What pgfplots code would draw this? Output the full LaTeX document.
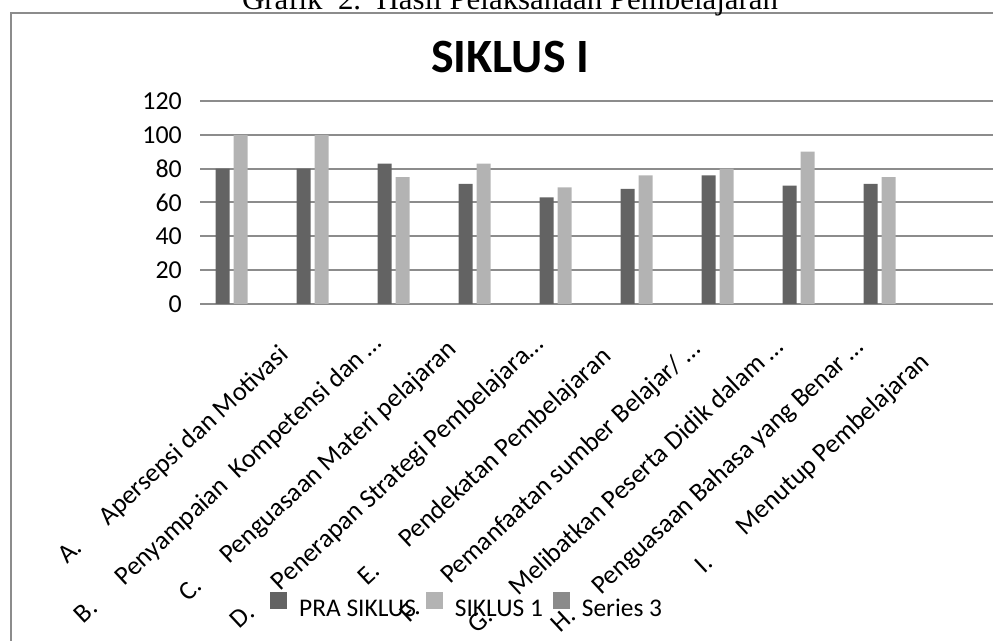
\documentclass[border=0pt]{standalone}
\usepackage{fontspec}
\setmainfont{Carlito}
\newfontfamily\timesfont{Liberation Serif}
\usepackage{pgfplots}
\pgfplotsset{compat=1.18}
\definecolor{pra}{HTML}{636363}
\definecolor{sik}{HTML}{B3B3B3}
\definecolor{ser}{HTML}{8A8A8A}
\definecolor{gridc}{HTML}{8C8C8C}
\begin{document}
\begin{tikzpicture}[x=1bp,y=1bp]
\useasboundingbox (0,0) rectangle (993,641);
\draw[gridc, line width=1.8bp] (11,-40) rectangle (1020,628);
\node[font=\timesfont\fontsize{31}{36}\selectfont, anchor=base] at (510,631.5) {Grafik\ \ 2.\ \ Hasil Pelaksanaan Pembelajaran};
\begin{axis}[
  at={(200bp,337bp)}, anchor=south west,
  scale only axis, width=810bp, height=203bp,
  xmin=-0.5, xmax=9.5, ymin=0, ymax=120,
  ytick={0,20,...,120},
  xtick={0,...,8},
  xticklabels={
    {\makebox[56bp][l]{A.}Apersepsi dan Motivasi\kern17bp},
    {\makebox[56bp][l]{B.}Penyampaian\ \ Kompetensi dan …},
    {\makebox[56bp][l]{C.}Penguasaan Materi pelajaran\kern9bp},
    {\makebox[56bp][l]{D.}Penerapan Strategi Pembelajara…\kern1bp},
    {\makebox[56bp][l]{E.}Pendekatan Pembelajaran\kern19bp},
    {\makebox[56bp][l]{F.}Pemanfaatan sumber Belajar/ …\kern8bp},
    {\makebox[56bp][l]{G.}Melibatkan Peserta Didik dalam …\kern5bp},
    {\makebox[56bp][l]{H.}Penguasaan Bahasa yang Benar …\kern6bp},
    {\makebox[56bp][l]{I.}Menutup Pembelajaran\kern27bp}},
  xticklabel style={xshift=62bp, yshift=-41bp, rotate=43, anchor=base east, inner sep=0pt, font=\fontsize{26.5}{30}\selectfont},
  yticklabel style={anchor=east, inner sep=0pt, xshift=-18bp, font=\fontsize{26}{30}\selectfont},
  /pgf/number format/assume math mode=true,
  major tick length=0pt,
  separate axis lines,
  x axis line style={draw=gridc, line width=2bp},
  y axis line style={draw=none},
  ymajorgrids, grid style={gridc, line width=2bp},
  title={\bfseries SIKLUS I},
  title style={at={(0.383,1.0)}, anchor=base, yshift=23bp, inner sep=0pt, font=\fontsize{48}{50}\selectfont},
  legend columns=3,
  legend image code/.code={\fill[#1,draw=none] (0bp,-0.5bp) rectangle (17bp,16.5bp);},
  legend style={at={(0.0864,-1.483)}, anchor=west, draw=none, fill=none, inner sep=0pt,
    font=\fontsize{25.5}{30}\selectfont,
    nodes={inner sep=0pt},
    /tikz/every even column/.append style={column sep=10bp},
    /tikz/every odd column/.append style={column sep=12bp}},
]
\addplot[ybar, bar width=14bp, bar shift=-18bp, fill=pra, draw=none]
  coordinates {(0,80) (1,80) (2,83) (3,71) (4,63) (5,68) (6,76) (7,70) (8,71)};
\addlegendentry{PRA SIKLUS}
\addplot[ybar, bar width=14bp, bar shift=0bp, fill=sik, draw=none]
  coordinates {(0,100) (1,100) (2,75) (3,83) (4,69) (5,76) (6,80) (7,90) (8,75)};
\addlegendentry{SIKLUS 1}
\addlegendimage{fill=ser, draw=none}
\addlegendentry{Series 3}
\end{axis}
\end{tikzpicture}
\end{document}
